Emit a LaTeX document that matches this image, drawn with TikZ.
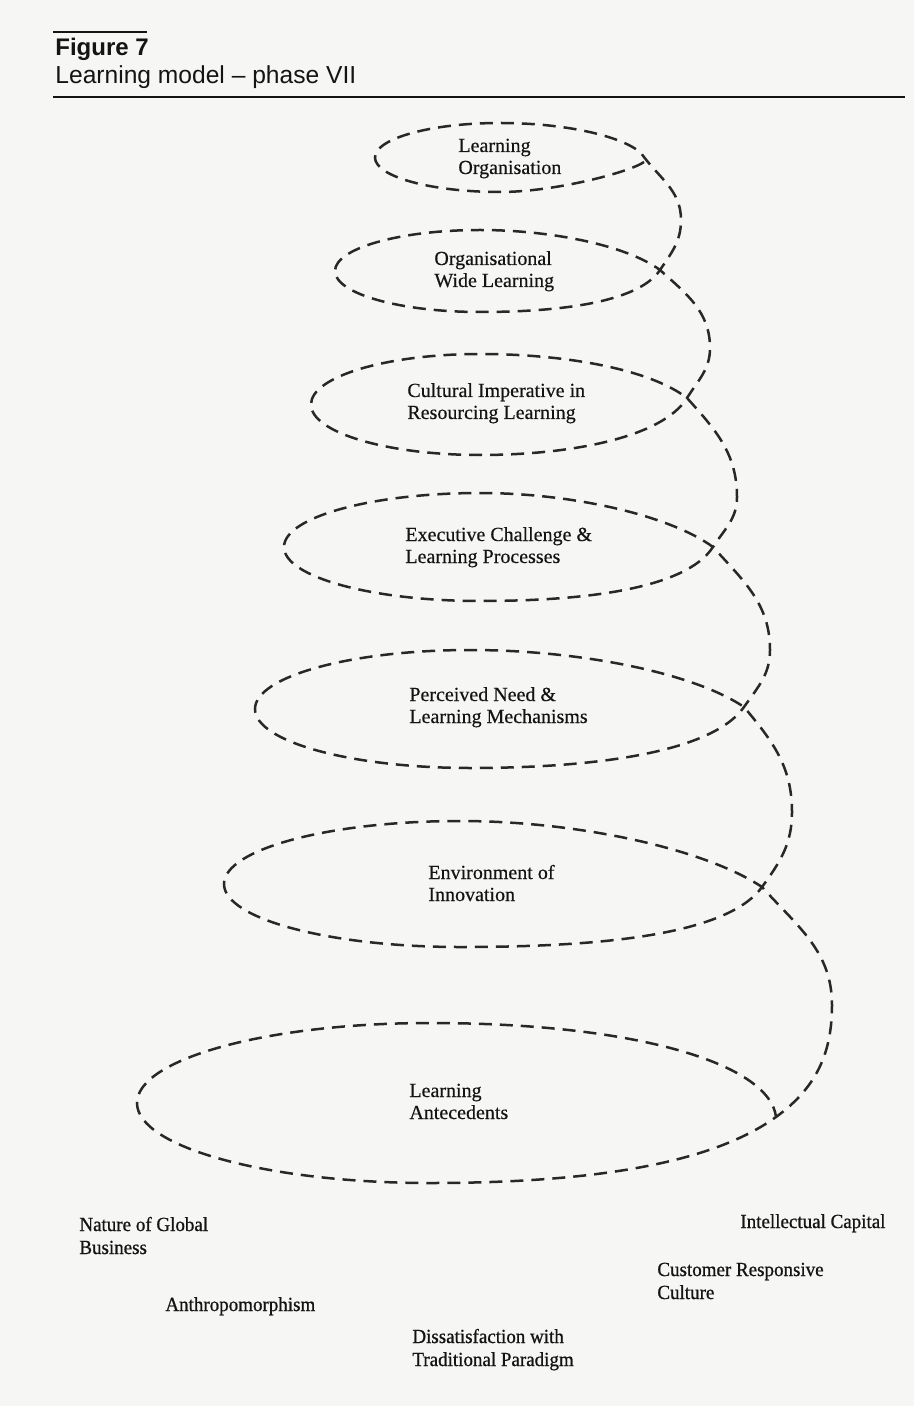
\documentclass[tikz,border=0pt]{standalone}
\usepackage{fontspec}
\setmainfont{Liberation Serif}[FakeBold=0.4]
\newfontfamily\headfont{Liberation Sans}
\newfontfamily\groundfont[FakeStretch=0.95,FakeBold=0.8]{Liberation Serif}
\definecolor{paper}{RGB}{246,246,244}
\definecolor{ink}{RGB}{40,40,40}
\definecolor{textink}{RGB}{20,20,20}
% two left-aligned lines whose baseline is that of the first line
\newcommand\twolines[2]{\begin{tabular}[t]{@{}l@{}}#1\\#2\end{tabular}}

\begin{document}
\begin{tikzpicture}[x=0.5pt,y=0.5pt,
  spiral/.style={draw=ink, line width=1.25pt, dash pattern=on 6.5pt off 4pt},
  looptext/.style={anchor=base west, inner sep=0pt, text=textink,
                   font=\fontsize{10}{11}\selectfont},
  basetext/.style={anchor=base west, inner sep=0pt, text=textink,
                   font=\groundfont\fontsize{10}{11.5}\selectfont},
  rule/.style={draw=textink}]

% page
\fill[paper] (0,0) rectangle (914,-1406);
\useasboundingbox (0,0) rectangle (914,-1406);

% heading
\coordinate (topruleL) at (53,-32);
\coordinate (topruleR) at (147,-32);
\coordinate (headruleL) at (53,-97);
\coordinate (headruleR) at (905,-97);
\draw[rule, line width=1.1pt] (topruleL) -- (topruleR);
\draw[rule, line width=0.9pt] (headruleL) -- (headruleR);
\node[anchor=base west, inner sep=0pt, text=textink,
      font=\headfont\bfseries\fontsize{12}{14}\selectfont] (figno) at (55,-56) {Figure 7};
\node[anchor=base west, inner sep=0pt, text=textink,
      font=\headfont\fontsize{12.3}{14}\selectfont] (figtitle) at (55,-84) {Learning model – phase VII};

% points of the spiral: B = bottom of a loop, X = crossing at its right tip,
% R = outermost point of the descent to the next loop
\coordinate (S1) at (644,-162);
\coordinate (B1) at (500,-192);
\coordinate (P1) at (641,-153);
\coordinate (R1) at (681,-220);
\coordinate (X2) at (660,-270);
\coordinate (B2) at (480,-312);
\coordinate (R2) at (710,-348);
\coordinate (X3) at (687,-398);
\coordinate (B3) at (480,-455);
\coordinate (R3) at (737,-497);
\coordinate (X4) at (713,-547);
\coordinate (B4) at (480,-601);
\coordinate (R4) at (770,-650);
\coordinate (X5) at (744,-707);
\coordinate (B5) at (470,-768);
\coordinate (R5) at (792,-812);
\coordinate (X6) at (762,-887);
\coordinate (B6) at (460,-947);
\coordinate (R6) at (832,-1005);
\coordinate (X7) at (776,-1117);
\coordinate (B7) at (430,-1183);

% the dashed spiral, one continuous line from the top loop down
\draw[spiral]
  (S1) .. controls (630,-172) and (555,-192) .. (B1)
       arc[start angle=270, end angle=90, x radius=125, y radius=34.5]
       .. controls (565,-123) and (622,-136) .. (P1)
       to[out=-55, in=90] (R1) to[out=-90, in=56] (X2)
  .. controls (638,-303) and (557,-312) .. (B2)
       arc[start angle=270, end angle=90, x radius=145, y radius=41]
       .. controls (550,-230) and (626,-245) .. (X2)
       to[out=-42, in=90] (R2) to[out=-90, in=58] (X3)
  .. controls (662,-438) and (569,-455) .. (B3)
       arc[start angle=270, end angle=90, x radius=169, y radius=50.5]
       .. controls (561,-354) and (648,-368) .. (X3)
       to[out=-48, in=90] (R3) to[out=-90, in=57] (X4)
  .. controls (685,-590) and (580,-601) .. (B4)
       arc[start angle=270, end angle=90, x radius=196, y radius=54]
       .. controls (571,-493) and (669,-515) .. (X4)
       to[out=-48, in=90] (R4) to[out=-90, in=55] (X5)
  .. controls (711,-754) and (588,-768) .. (B5)
       arc[start angle=270, end angle=90, x radius=215, y radius=59]
       .. controls (577,-650) and (692,-672) .. (X5)
       to[out=-50, in=90] (R5) to[out=-90, in=54] (X6)
  .. controls (726,-937) and (590,-947) .. (B6)
       arc[start angle=270, end angle=90, x radius=236, y radius=63]
       .. controls (578,-821) and (705,-849) .. (X6)
       to[out=-48, in=90] (R6) to[out=-90, in=36] (X7)
  .. controls (730,-1150) and (640,-1183) .. (B7)
       arc[start angle=270, end angle=90, x radius=293, y radius=80]
       .. controls (640,-1023) and (770,-1065) .. (X7);

% stage names inside the loops
\node[looptext] (lorg)  at (458,-152)  {\twolines{Learning}{Organisation}};
\node[looptext] (owl)   at (434,-265)  {\twolines{Organisational}{Wide Learning}};
\node[looptext] (cult)  at (407,-397)  {\twolines{Cultural Imperative in}{Resourcing Learning}};
\node[looptext] (exec)  at (405,-541)  {\twolines{Executive Challenge \&}{Learning Processes}};
\node[looptext] (need)  at (409,-701)  {\twolines{Perceived Need \&}{Learning Mechanisms}};
\node[looptext] (innov) at (428,-879)  {\twolines{Environment of}{Innovation}};
\node[looptext] (ante)  at (409,-1097) {\twolines{Learning}{Antecedents}};

% antecedents beneath the spiral
\node[basetext] (global)  at (79,-1231)  {\twolines{Nature of Global}{Business}};
\node[basetext] (anthro)  at (165,-1311) {Anthropomorphism};
\node[basetext] (dissat)  at (412,-1343) {\twolines{Dissatisfaction with}{Traditional Paradigm}};
\node[basetext] (capital) at (740,-1228) {Intellectual Capital};
\node[basetext] (cust)    at (657,-1276) {\twolines{Customer Responsive}{Culture}};
\end{tikzpicture}
\end{document}
